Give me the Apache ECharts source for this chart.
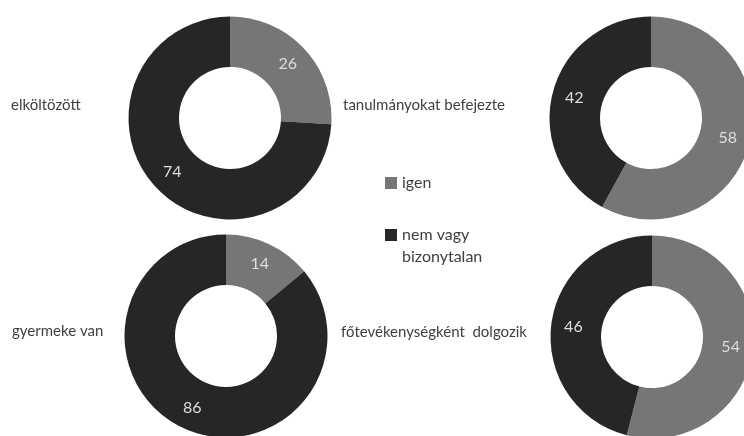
<!DOCTYPE html>
<html>
<head>
<meta charset="utf-8">
<script src="https://cdn.jsdelivr.net/npm/echarts@6/dist/echarts.min.js"></script>
<style>
  html, body { margin: 0; padding: 0; background: #fff; }
  #chart { width: 744px; height: 436px; }
</style>
</head>
<body>
<div id="chart"></div>
<script>
// adatok
var categories = ['elköltözött', 'tanulmányokat befejezte', 'gyermeke van', 'főtevékenységként  dolgozik'];
var answers = ['igen', 'nem vagy bizonytalan'];
var igen = [26, 58, 14, 54];
var nem = [74, 42, 86, 46];

var colors = ['#767676', '#262626'];
var font = 'Lato, "Noto Sans", sans-serif';

// donut helyek és címkék
var centers = [[230, 118], [651, 118], [226, 336], [652, 337]];
var titlePos = [[11, 98], [343, 98], [12, 324], [341, 325]];

var myChart = echarts.init(document.getElementById('chart'));

var series = categories.map(function (c, i) {
  return {
    name: c,
    type: 'pie',
    center: centers[i],
    radius: [51, 101.5],
    startAngle: 90,
    clockwise: true,
    silent: true,
    label: {
      show: true,
      position: 'inside',
      formatter: '{c}',
      color: '#dedede',
      fontSize: 16,
      fontFamily: font
    },
    labelLine: { show: false },
    itemStyle: { borderWidth: 0 },
    data: [
      { name: answers[0], value: igen[i] },
      { name: answers[1], value: nem[i] }
    ]
  };
});

var titles = categories.map(function (c, i) {
  return {
    text: c,
    left: titlePos[i][0],
    top: titlePos[i][1],
    padding: 0,
    textStyle: { fontSize: 15, fontWeight: 'normal', color: '#404040', fontFamily: font }
  };
});

var option = {
  color: colors,
  animation: false,
  title: titles,
  legend: [
    {
      orient: 'vertical',
      left: 385,
      top: 172,
      padding: 0,
      itemWidth: 12,
      itemHeight: 12,
      icon: 'rect',
      selectedMode: false,
      data: [answers[0]],
      textStyle: { fontSize: 16, color: '#404040', fontFamily: font, lineHeight: 22 }
    },
    {
      orient: 'vertical',
      left: 385,
      top: 202,
      padding: 0,
      itemWidth: 12,
      itemHeight: 12,
      icon: 'rect',
      selectedMode: false,
      data: [answers[1]],
      formatter: function () { return ' \nnem vagy\nbizonytalan'; },
      textStyle: { fontSize: 16, color: '#404040', fontFamily: font, lineHeight: 22 }
    }
  ],
  series: series
};

myChart.setOption(option);
</script>
</body>
</html>
